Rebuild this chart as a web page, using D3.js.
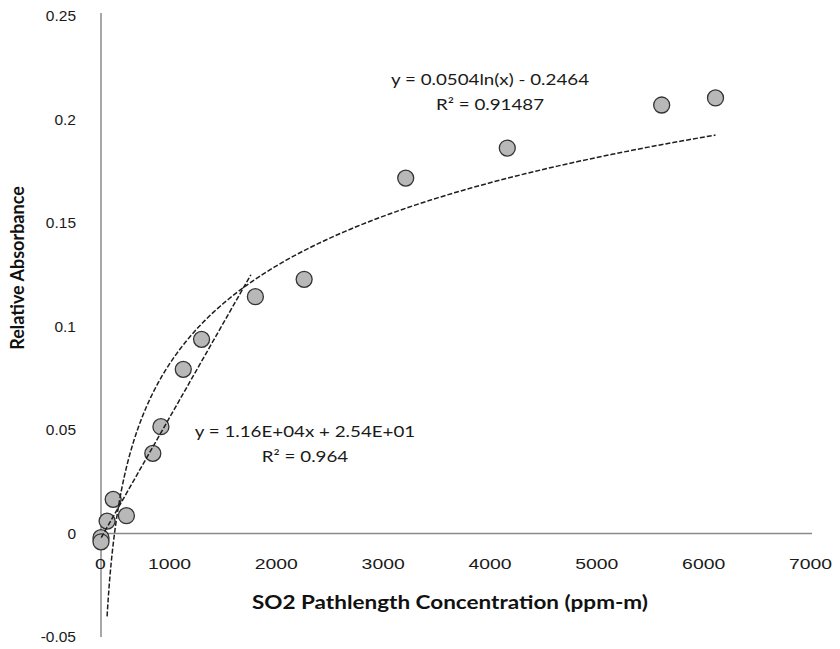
<!DOCTYPE html>
<html lang="en">
<head>
<meta charset="UTF-8">
<title>SO2 Relative Absorbance</title>
<script src="https://d3js.org/d3.v7.min.js"></script>
<style>
    body { margin: 0; background: #fff; }
    svg { font-family: Lato, "Open Sans", sans-serif; }
    .tick text { fill: #1a1a1a; }
</style>
</head>
<body>
<svg id="canvas" width="840" height="649"></svg>
<script>
// measured points (ppm-m, relative absorbance)
const concentration = [0, 0, 60, 120, 250, 510, 590, 810, 990, 1520, 2000, 3000, 4000, 5520, 6050];
const absorbance = [-0.002, -0.004, 0.006, 0.0165, 0.0086, 0.0387, 0.0516, 0.0793, 0.0938, 0.1144, 0.1228, 0.1717, 0.1862, 0.207, 0.2104];

const xTicks = [0, 1000, 2000, 3000, 4000, 5000, 6000, 7000];
const yTicks = [-0.05, 0, 0.05, 0.1, 0.15, 0.2, 0.25];
const yTickLabels = ["-0.05", "0", "0.05", "0.1", "0.15", "0.2", "0.25"];

// trendlines as printed on the chart
const logFit = {a: 0.0504, b: -0.2464};      // y = a ln(x) + b
const linFit = {m: 1.16e4, c: 2.54e1};       // x = m y + c
const linRange = [-0.002, 0.125];
const logEq = ["y = 0.0504ln(x) - 0.2464", "R² = 0.91487"];
const linEq = ["y = 1.16E+04x + 2.54E+01", "R² = 0.964"];

const stretch = 1.25; // source picture is widened horizontally

let svg = d3.select("#canvas");
let x = d3.scaleLinear().domain([0, 7000]).range([101, 812]);
let y = d3.scaleLinear().domain([-0.05, 0.25]).range([637, 16]);
// the source prints its x labels at these spots, not quite under the data scale
let xLabel = d3.scaleLinear().domain([0, 1000, 7000]).range([100, 169, 810]);

function widen(sel) {
    sel.each(function () {
        let w = this.getComputedTextLength();
        d3.select(this).attr("textLength", w * stretch).attr("lengthAdjust", "spacingAndGlyphs");
    });
}

// axis lines
svg.append("line")
    .attr("x1", x(0)).attr("x2", x(0))
    .attr("y1", y(0.25) - 3).attr("y2", y(-0.05))
    .style("stroke", "#8a8a8a").style("stroke-width", 1.5);
svg.append("line")
    .attr("x1", x(0)).attr("x2", x(7000))
    .attr("y1", y(0)).attr("y2", y(0))
    .style("stroke", "#8a8a8a").style("stroke-width", 1.5);

let gy = svg.append("g")
    .attr("transform", `translate(${x(0)},0)`)
    .call(d3.axisLeft(y).tickValues(yTicks).tickSize(0).tickPadding(25)
        .tickFormat((d, i) => yTickLabels[i]));
gy.select(".domain").remove();
gy.selectAll("text").style("font-size", "15.5px");

let gx = svg.append("g")
    .attr("transform", `translate(0,${y(0)})`)
    .call(d3.axisBottom(xLabel).tickValues(xTicks).tickSize(0).tickPadding(24)
        .tickFormat(d3.format("d")));
gx.select(".domain").remove();
gx.selectAll("text").style("font-size", "15.5px").call(widen);

// points
let pts = concentration.map((c, i) => ({c: c, a: absorbance[i]}));
svg.append("g").selectAll("circle")
    .data(pts)
    .enter().append("circle")
    .attr("cx", d => x(d.c))
    .attr("cy", d => y(d.a))
    .attr("r", 8)
    .style("fill", "#b8b8b8")
    .style("stroke", "#333")
    .style("stroke-width", 1.3);

// log trendline over the positive data range
let xmin = d3.min(concentration.filter(c => c > 0));
let xmax = d3.max(concentration);
let logPts = d3.range(0, 201).map(i => xmin * Math.pow(xmax / xmin, i / 200));
let line = d3.line().x(d => x(d[0])).y(d => y(d[1]));
svg.append("path")
    .attr("d", line(logPts.map(c => [c, logFit.a * Math.log(c) + logFit.b])))
    .style("fill", "none").style("stroke", "#1e1e1e")
    .style("stroke-width", 1.5).style("stroke-dasharray", "5,2");

svg.append("path")
    .attr("d", line(linRange.map(a => [linFit.m * a + linFit.c, a])))
    .style("fill", "none").style("stroke", "#1e1e1e")
    .style("stroke-width", 1.5).style("stroke-dasharray", "5,2");

// equations
function eq(lines, cx, cy) {
    let t = svg.append("g").selectAll("text")
        .data(lines)
        .enter().append("text")
        .attr("x", cx).attr("y", (d, i) => cy + i * 25)
        .attr("text-anchor", "middle")
        .style("font-size", "15px").style("fill", "#1a1a1a")
        .text(d => d);
    t.call(widen);
}
eq(logEq, 490, 85);
eq(linEq, 305, 437);

// axis titles
svg.append("text")
    .attr("x", 450).attr("y", 609)
    .attr("text-anchor", "middle")
    .style("font-size", "18px").style("font-weight", "bold").style("fill", "#111")
    .text("SO2 Pathlength Concentration (ppm-m)")
    .call(widen);

svg.append("text")
    .attr("transform", "translate(24,268) rotate(-90)")
    .attr("text-anchor", "middle")
    .style("font-size", "18px").style("font-weight", "bold").style("fill", "#111")
    .text("Relative Absorbance");
</script>
</body>
</html>
